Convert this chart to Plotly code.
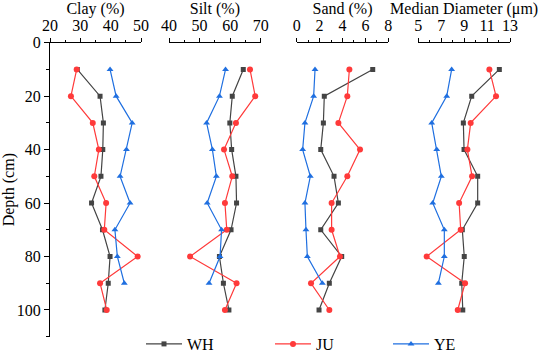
import plotly.graph_objects as go

W, H = 550, 355

depth = [10, 20, 30, 40, 50, 60, 70, 80, 90, 100]
depth_ye = [10, 20, 30, 40, 50, 60, 70, 80, 90]

clay_wh = [29.0, 36.5, 37.6, 37.4, 36.8, 33.7, 37.3, 39.8, 39.2, 38.1]
clay_ju = [28.8, 26.9, 34.1, 36.1, 34.6, 38.5, 37.9, 48.9, 36.5, 38.7]
clay_ye = [39.8, 41.8, 47.1, 45.2, 43.1, 46.4, 41.4, 42.2, 44.5]

silt_wh = [64.3, 60.7, 59.9, 60.5, 61.9, 62.1, 60.3, 56.5, 57.8, 59.6]
silt_ju = [66.5, 68.2, 61.9, 58.0, 60.7, 58.3, 58.9, 46.9, 62.1, 58.3]
silt_ye = [58.5, 56.5, 52.3, 54.2, 55.5, 52.5, 57.2, 56.7, 53.1]

sand_wh = [6.64, 2.41, 2.33, 2.10, 3.26, 3.64, 2.10, 3.93, 2.85, 1.95]
sand_ju = [4.60, 4.42, 3.64, 5.53, 4.42, 3.05, 3.05, 3.78, 1.25, 2.85]
sand_ye = [1.60, 1.48, 0.72, 0.52, 1.19, 0.72, 0.81, 0.93, 2.24]

md_wh = [12.07, 9.66, 8.93, 8.99, 10.18, 10.18, 8.84, 9.01, 8.79, 8.88]
md_ju = [11.20, 11.78, 9.57, 9.28, 9.69, 8.56, 8.70, 5.73, 9.08, 8.44]
md_ye = [7.91, 7.48, 6.17, 6.61, 7.01, 6.26, 7.27, 7.27, 6.75]

panel_titles = ["Clay (%)", "Silt (%)", "Sand (%)", "Median Diameter (\u03bcm)"]
panel_ranges = [[20, 50], [40, 70], [0, 8], [5, 13]]
panel_tick0 = [20, 40, 0, 5]
panel_dtick = [10, 10, 2, 2]
panel_minor = [5, 5, 1, 1]
panel_px = [(50, 141), (169, 260.7), (296.7, 388.3), (418.3, 510)]

series_names = ["WH", "JU", "YE"]
colors = {"WH": "#444444", "JU": "#ff3a3a", "YE": "#1f6fe0"}
symbols = {"WH": "square", "JU": "circle", "YE": "triangle-up"}
msize = {"WH": 5, "JU": 6, "YE": 6}

panels = [
    {"WH": clay_wh, "JU": clay_ju, "YE": clay_ye},
    {"WH": silt_wh, "JU": silt_ju, "YE": silt_ye},
    {"WH": sand_wh, "JU": sand_ju, "YE": sand_ye},
    {"WH": md_wh, "JU": md_ju, "YE": md_ye},
]

FONT = "Liberation Serif"
fig = go.Figure()

legend_ids = {"WH": "legend", "JU": "legend2", "YE": "legend3"}

for i, pdata in enumerate(panels):
    xref = "x" if i == 0 else f"x{i+1}"
    for name in series_names:
        yvals = depth_ye if name == "YE" else depth
        fig.add_trace(go.Scatter(
            x=pdata[name], y=yvals, xaxis=xref, yaxis="y",
            mode="lines+markers", name=name,
            line=dict(color=colors[name], width=1.2),
            marker=dict(symbol=symbols[name], size=msize[name], color=colors[name]),
            showlegend=(i == 0), legend=legend_ids[name],
        ))

ytop = 42.7
ybot = 336.7
layout = dict(
    width=W, height=H,
    margin=dict(l=0, r=0, t=0, b=0, autoexpand=False),
    paper_bgcolor="white", plot_bgcolor="white",
    font=dict(family=FONT, size=16, color="black"),
    yaxis=dict(
        domain=[1 - ybot / H, 1 - ytop / H],
        range=[110, 0], anchor="x", automargin=False,
        tickmode="linear", tick0=0, dtick=20,
        tickfont=dict(family=FONT, size=16),
        showline=True, linecolor="black", linewidth=1.2,
        ticks="outside", ticklen=5, tickwidth=1.2, tickcolor="black",
        minor=dict(ticks="outside", ticklen=3, dtick=10, tick0=0, tickcolor="black", tickwidth=1.2),
        showgrid=False, zeroline=False,
        title=dict(text="Depth (cm)", standoff=3, font=dict(size=16, family=FONT)),
    ),
    showlegend=True,
)

for i in range(4):
    key = "xaxis" if i == 0 else f"xaxis{i+1}"
    x0, x1 = panel_px[i]
    layout[key] = dict(
        domain=[x0 / W, x1 / W], range=panel_ranges[i], anchor="y", side="top",
        automargin=False,
        tickmode="linear", tick0=panel_tick0[i], dtick=panel_dtick[i],
        tickfont=dict(family=FONT, size=16),
        showline=True, linecolor="black", linewidth=1.2,
        ticks="outside", ticklen=4, tickwidth=1.2, tickcolor="black",
        minor=dict(ticks="outside", ticklen=2, dtick=panel_minor[i], tickcolor="black", tickwidth=1.2),
        showgrid=False, zeroline=False,
        title=dict(text=panel_titles[i], standoff=2, font=dict(size=16, family=FONT)),
    )

leg_y = 1 - 344 / H
leg_x = {"WH": 141, "JU": 270, "YE": 388}
for name in series_names:
    layout[legend_ids[name]] = dict(
        x=leg_x[name] / W, y=leg_y, xanchor="left", yanchor="middle",
        orientation="h", bgcolor="rgba(0,0,0,0)", itemwidth=36,
        font=dict(size=16, family=FONT),
    )

fig.update_layout(**layout)
fig.write_html("out.html", config={"displayModeBar": False},
               post_script="document.body.style.margin='0';")
